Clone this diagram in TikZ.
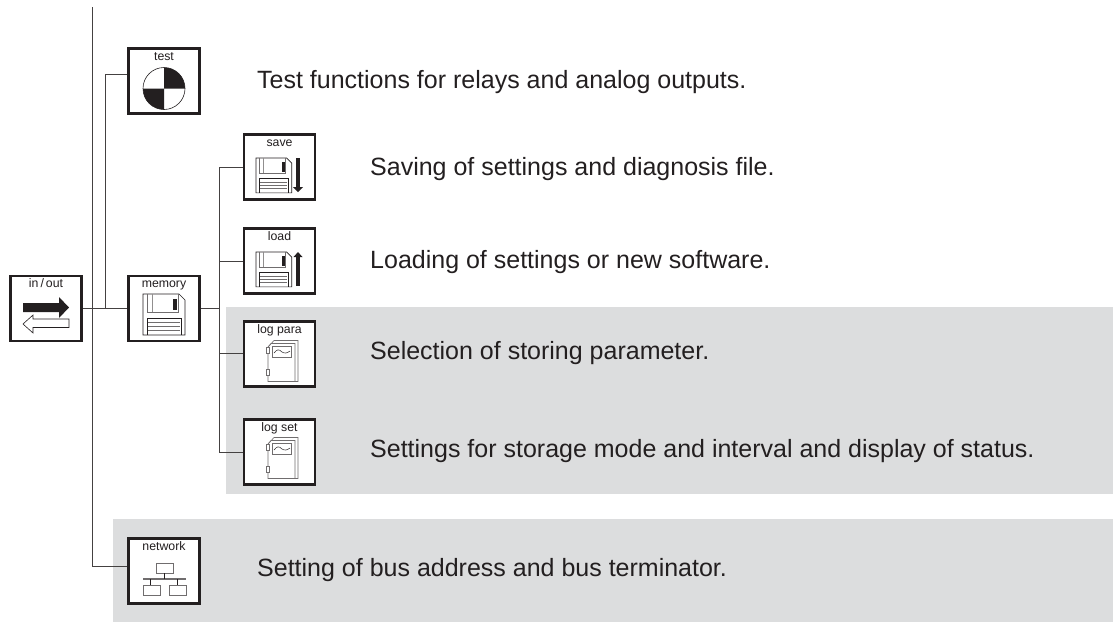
\documentclass[tikz,border=0pt]{standalone}
\usepackage{fontspec}
\setmainfont{Liberation Sans}
\definecolor{band}{HTML}{DCDDDE}
\definecolor{ink}{HTML}{231F20}
\tikzset{
  iconframe/.style={draw=ink,line width=2.4pt,fill=white,minimum width=71pt,minimum height=65pt,inner sep=0pt},
  boxlabel/.style={font=\fontsize{12.3}{13}\selectfont,text=ink,inner sep=0pt,anchor=base},
  desc/.style={font=\fontsize{25}{28}\selectfont,text=ink,inner sep=0pt,anchor=base west},
  conn/.style={draw=ink!85,line width=0.9pt},
  hair/.style={draw=ink,line width=0.6pt},
  hairgray/.style={draw=ink!65,line width=0.6pt},
}
\newcommand{\iconbox}[4]{%
  \node[iconframe] (#1) at (#2,#3) {};
  \node[boxlabel] (#1lab) at (#2,#3-21) {#4};
}
\newcommand{\floppy}[3]{% x, y, scale
  \begin{scope}[shift={(#1,#2)},xscale=#3,yscale=#3]
    \draw[hair,fill=white] (0,0) -- (36,0) -- (42,6) -- (42,41) -- (0,41) -- cycle;
    \draw[hairgray] (4,0) -- (4,18) -- (35,18) -- (35,0);
    \draw[draw=ink!50,line width=1pt] (9,0) -- (9,18);
    \fill[ink] (30,5) rectangle (34,16);
    \draw[hair] (4,41) -- (4,24) -- (38,24) -- (38,41);
    \draw[hairgray] (5,28) -- (37,28) (5,32) -- (37,32) (5,36) -- (37,36);
  \end{scope}
}
\newcommand{\logbook}[2]{% x, y of top-left
  \begin{scope}[shift={(#1,#2)}]
    \draw[hairgray,fill=white] (2,41.5) -- (2,7) -- (8,0.5) -- (32,0.5) -- (32,41.5) -- cycle;
    \draw[hairgray] (2,7) -- (5,3.5) -- (29,3.5) -- (29,41.5);
    \draw[hairgray,fill=white] (6,6.5) rectangle (25.5,17);
    \draw[hair,line width=0.5pt] (8,13) .. controls (11,9) and (13,9) .. (16,12) .. controls (19,14) and (21,13) .. (24,11);
    \draw[hairgray,fill=white] (0.5,7) rectangle (3.5,13);
    \draw[hairgray,fill=white] (0.5,29) rectangle (3.5,35);
  \end{scope}
}
\begin{document}
\begin{tikzpicture}[x=1pt,y=-1pt]
\useasboundingbox (0,0) rectangle (1113,622);
\fill[band] (226,307) rectangle (1113,494);
\fill[band] (113,519) rectangle (1113,622);

\coordinate (maintop) at (92,7);
\coordinate (mainbot) at (92,566);
\coordinate (subbot) at (105,308.5);
\coordinate (subtop) at (105,74);
\coordinate (memtop) at (219,167);
\coordinate (membot) at (219,452);
\coordinate (memmid) at (219,308.5);
\coordinate (loadj) at (219,261);
\coordinate (paraj) at (219,353);

\iconbox{inout}{46}{308.5}{in\,/\,out}
\iconbox{test}{164}{81}{test}
\iconbox{memory}{164}{308.5}{memory}
\iconbox{save}{279.5}{167}{save}
\iconbox{load}{279.5}{261}{load}
\iconbox{logpara}{279.5}{354}{log para}
\iconbox{logset}{279.5}{452}{log set}
\iconbox{network}{164}{571}{network}

\draw[conn] (maintop) -- (mainbot) -- (network.west |- mainbot);
\draw[conn] (subbot) -- (subtop) -- (test.west |- subtop);
\draw[conn] (inout.east) -- (memory.west);
\draw[conn] (memory.east) -- (memmid);
\draw[conn] (save.west) -- (memtop) -- (membot) -- (logset.west |- membot);
\draw[conn] (loadj) -- (load.west |- loadj);
\draw[conn] (paraj) -- (logpara.west |- paraj);

% test icon
\draw[hair,fill=white] (164,88.5) circle (21);
\fill[ink] (164,88.5) -- (164,67.5) arc[start angle=-90,end angle=0,radius=21] -- cycle;
\fill[ink] (164,88.5) -- (164,109.5) arc[start angle=90,end angle=180,radius=21] -- cycle;

% in/out arrows
\fill[ink] (23,303) -- (59,303) -- (59,297) -- (69,307.5) -- (59,318) -- (59,312) -- (23,312) -- cycle;
\draw[hair,fill=white] (69,319) -- (33,319) -- (33,315) -- (23,324) -- (33,333) -- (33,327.5) -- (69,327.5) -- cycle;

% disks
\floppy{143}{294}{1}
\floppy{256}{158}{0.85}
\floppy{256}{252}{0.85}
\fill[ink] (296,158) rectangle (300,187);
\fill[ink] (293,187) -- (303,187) -- (298,192) -- cycle;
\fill[ink] (296,256) rectangle (300,286);
\fill[ink] (293.5,257) -- (302.5,257) -- (298,252) -- cycle;

% logs
\logbook{266}{340}
\logbook{266}{437}

% network icon
\draw[hairgray,fill=white] (156,563) rectangle (173,573);
\draw[hairgray,fill=white] (143,585) rectangle (160,595);
\draw[hairgray,fill=white] (169,585) rectangle (186,595);
\draw[draw=ink!65,line width=1.6pt] (143,579) -- (186,579);
\draw[hair] (164.5,573) -- (164.5,579) (150.5,579) -- (150.5,585) (177.5,579) -- (177.5,585);

\node[desc] (d1) at (257,88) {Test functions for relays and analog outputs.};
\node[desc] (d2) at (370,175.5) {Saving of settings and diagnosis file.};
\node[desc] (d3) at (370,268) {Loading of settings or new software.};
\node[desc] (d4) at (370,359) {Selection of storing parameter.};
\node[desc] (d5) at (370,457) {Settings for storage mode and interval and display of status.};
\node[desc] (d6) at (257,576.5) {Setting of bus address and bus terminator.};
\end{tikzpicture}
\end{document}
